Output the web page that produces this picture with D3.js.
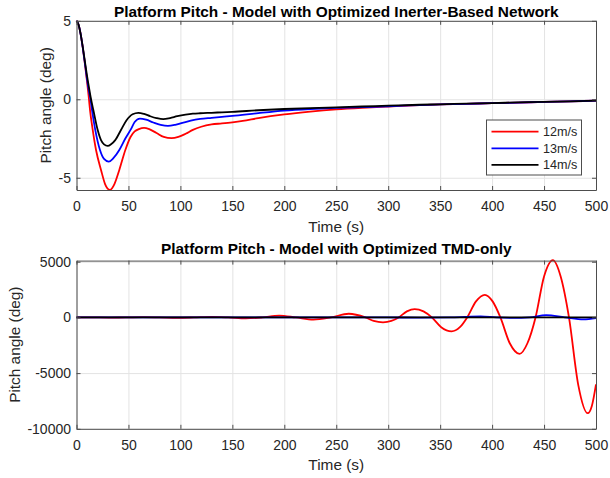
<!DOCTYPE html>
<html><head><meta charset="utf-8">
<script src="https://cdn.jsdelivr.net/npm/d3@7"></script>
<style>
body{margin:0;background:#fff;}
svg{display:block;font-family:"Liberation Sans",Arial,Helvetica,sans-serif;}
</style></head>
<body><svg id="c" width="610" height="478"></svg>
<script>
// ---------- Data ----------
const xTicks = [0,50,100,150,200,250,300,350,400,450,500];
const topYTicks = [-5,0,5];
const botYTicks = [-10000,-5000,0,5000];
const seriesNames = ["12m/s","13m/s","14m/s"];
const seriesColors = ["#ff0000","#0000ff","#000000"];

// Top panel: optimized inerter-based network
const inerterT12 = [0,2,4,6,8,10,12,13,15.5,18.8,23.6,27.5,32.2,36.5,41.2,47,52,56,60,65,70,77,84,91.5,98,105,112,120,130,140,150,160,175,200,225,250,275,300,330,350,375,400,425,450,475,500];
const inerterP12 = [5,4.75,4.15,3.3,2.3,1.2,0,-0.68,-1.9,-3.23,-4.5,-5.4,-5.78,-5.4,-4.5,-3.23,-2.4,-2.05,-1.9,-1.82,-1.9,-2.15,-2.4,-2.48,-2.4,-2.2,-1.95,-1.75,-1.6,-1.54,-1.47,-1.38,-1.2,-0.96,-0.78,-0.64,-0.54,-0.46,-0.37,-0.33,-0.29,-0.25,-0.21,-0.17,-0.13,-0.09];
const inerterT13 = [0,2,4,6,8,10,12,13.5,14.9,18.1,22.6,26.5,31,35.5,41.2,47,52.4,56,61,67,74,81,88,95,102,110,119,130,140,150,175,200,225,250,275,300,330,350,375,400,425,450,475,500];
const inerterP13 = [5,4.75,4.15,3.3,2.35,1.35,0.5,0,-0.68,-1.96,-3.23,-3.8,-3.97,-3.75,-3.23,-2.5,-1.9,-1.45,-1.23,-1.3,-1.48,-1.63,-1.7,-1.63,-1.5,-1.36,-1.25,-1.18,-1.12,-1.06,-0.88,-0.72,-0.62,-0.55,-0.5,-0.45,-0.37,-0.33,-0.29,-0.25,-0.21,-0.17,-0.13,-0.09];
const inerterT14 = [0,2,4,6,8,10,12,14,16.2,20.4,23.6,26.5,30,33.5,37.3,42.8,48,54,59.5,65,71,77,83.5,90,97,105,112,119,130,140,150,175,200,225,250,275,300,330,350,375,400,425,450,475,500];
const inerterP14 = [5,4.75,4.15,3.35,2.45,1.55,0.75,0,-0.68,-1.96,-2.6,-2.87,-2.97,-2.85,-2.6,-1.96,-1.35,-0.95,-0.86,-0.93,-1.08,-1.2,-1.27,-1.2,-1.08,-0.98,-0.92,-0.89,-0.86,-0.83,-0.8,-0.7,-0.62,-0.56,-0.51,-0.46,-0.41,-0.35,-0.32,-0.28,-0.24,-0.2,-0.16,-0.13,-0.09];

// Bottom panel: optimized TMD-only
const tmdT12 = [0,15,31,47,64,80,97,113,130,146,163,179,195,211,228,245,262,278,286,295,303,310,318,325.5,334,342,351,361,369,376,384.5,393,400.5,408,417,426.4,434,441.8,450,458.5,466,474,483,492,496,500];
const tmdP12 = [5,0,-11,0,18,0,-29,0,47,0,-85,0,160,0,-200,0,330,0,-320,-446,-320,0,540,750,540,0,-880,-1250,-880,0,1440,2030,1440,0,-2320,-3270,-2320,0,3680,5150,3680,0,-6100,-8600,-7950,-6010];
const tmdT13 = [0,300,330,360,374,389,404,420,436,452,470,488,500];
const tmdP13 = [5,0,-20,0,50,100,0,-50,0,200,0,-180,-70];
const tmdT14 = [0,50,150,250,350,450,500];
const tmdP14 = [5,0,0,0,0,0,0];

// ---------- Drawing ----------
const svg = d3.select("#c");
svg.append("rect").attr("width",610).attr("height",478).attr("fill","#fff");
const AX = "#4d4d4d", TXT = "#262626", GRID = "#e3e3e3";
const FONT_TICK = 14, FONT_LAB = 15.4;

function panel(o){
  const x = d3.scaleLinear().domain([0,500]).range([o.left,o.right]);
  const y = d3.scaleLinear().domain(o.yDomain).range([o.bottom,o.top]);
  const g = svg.append("g");
  const W = o.right-o.left, H = o.bottom-o.top;
  // grid
  const gx = g.append("g").attr("transform",`translate(0,${o.bottom})`)
    .call(d3.axisBottom(x).tickValues(xTicks).tickSize(-H).tickFormat(""));
  const gy = g.append("g").attr("transform",`translate(${o.left},0)`)
    .call(d3.axisLeft(y).tickValues(o.yTicks).tickSize(-W).tickFormat(""));
  [gx,gy].forEach(a=>{a.select(".domain").remove();a.selectAll("line").attr("stroke",GRID).attr("stroke-width",1);});

  // lines
  o.series.forEach((s,i)=>{
    const pts = s.t.map((t,k)=>[t,s.v[k]]);
    g.append("path").datum(pts)
      .attr("fill","none").attr("stroke",seriesColors[i]).attr("stroke-width",1.8)
      .attr("stroke-linejoin","round")
      .attr("d",d3.line().x(d=>x(d[0])).y(d=>y(d[1])).curve(d3.curveMonotoneX));
  });

  // axes
  const styleAxis = a=>{
    a.select(".domain").attr("stroke",AX);
    a.selectAll(".tick line").attr("stroke",AX);
    a.selectAll("text").attr("fill",TXT).attr("font-size",FONT_TICK).attr("font-family",null);
  };
  const ab = g.append("g").attr("transform",`translate(0,${o.bottom})`)
    .call(d3.axisBottom(x).tickValues(xTicks).tickSizeInner(-4).tickSizeOuter(0).tickPadding(11).tickFormat(d3.format("d")));
  styleAxis(ab);
  const at = g.append("g").attr("transform",`translate(0,${o.top})`)
    .call(d3.axisTop(x).tickValues(xTicks).tickSizeInner(-4).tickSizeOuter(0).tickFormat(""));
  styleAxis(at);
  const al = g.append("g").attr("transform",`translate(${o.left},0)`)
    .call(d3.axisLeft(y).tickValues(o.yTicks).tickSizeInner(-4).tickSizeOuter(0).tickPadding(5.5).tickFormat(d3.format("d")));
  styleAxis(al);
  al.selectAll("text").text(d=>d<0?"-"+Math.abs(d):d);
  const ar = g.append("g").attr("transform",`translate(${o.right},0)`)
    .call(d3.axisRight(y).tickValues(o.yTicks).tickSizeInner(-4).tickSizeOuter(0).tickFormat(""));
  styleAxis(ar);

  // labels
  g.append("text").attr("x",(o.left+o.right)/2).attr("y",o.titleY)
    .attr("text-anchor","middle").attr("font-weight","bold").attr("font-size",FONT_LAB)
    .attr("fill","#000").text(o.title);
  g.append("text").attr("x",(o.left+o.right)/2).attr("y",o.bottom+41.5)
    .attr("text-anchor","middle").attr("font-size",FONT_LAB).attr("fill",TXT).text("Time (s)");
  g.append("text").attr("transform",`translate(${o.yLabX},${(o.top+o.bottom)/2}) rotate(-90)`)
    .attr("text-anchor","middle").attr("font-size",FONT_LAB).attr("fill",TXT).text("Pitch angle (deg)");
  return {x,y,g};
}

panel({
  left:76.5,right:596,top:20.8,bottom:190,yDomain:[-5.78,5],yTicks:topYTicks,
  title:"Platform Pitch - Model with Optimized Inerter-Based Network",titleY:16.5,yLabX:51,
  series:[{t:inerterT12,v:inerterP12},{t:inerterT13,v:inerterP13},{t:inerterT14,v:inerterP14}]
});
panel({
  left:76.5,right:596,top:260.6,bottom:428.8,yDomain:[-10000,5100],yTicks:botYTicks,
  title:"Platform Pitch - Model with Optimized TMD-only",titleY:253.5,yLabX:19.5,
  series:[{t:tmdT12,v:tmdP12},{t:tmdT13,v:tmdP13},{t:tmdT14,v:tmdP14}]
});

// legend (top panel)
const lg = svg.append("g");
lg.append("rect").attr("x",486.5).attr("y",120).attr("width",95).attr("height",55)
  .attr("fill","#fff").attr("stroke",AX).attr("stroke-width",1);
seriesNames.forEach((n,i)=>{
  const yy = 131.7 + i*16.6;
  lg.append("line").attr("x1",491.5).attr("x2",538.5).attr("y1",yy).attr("y2",yy)
    .attr("stroke",seriesColors[i]).attr("stroke-width",1.8);
  lg.append("text").attr("x",543).attr("y",yy).attr("dy","0.35em")
    .attr("font-size",12.6).attr("fill",TXT).text(n);
});
</script></body></html>
